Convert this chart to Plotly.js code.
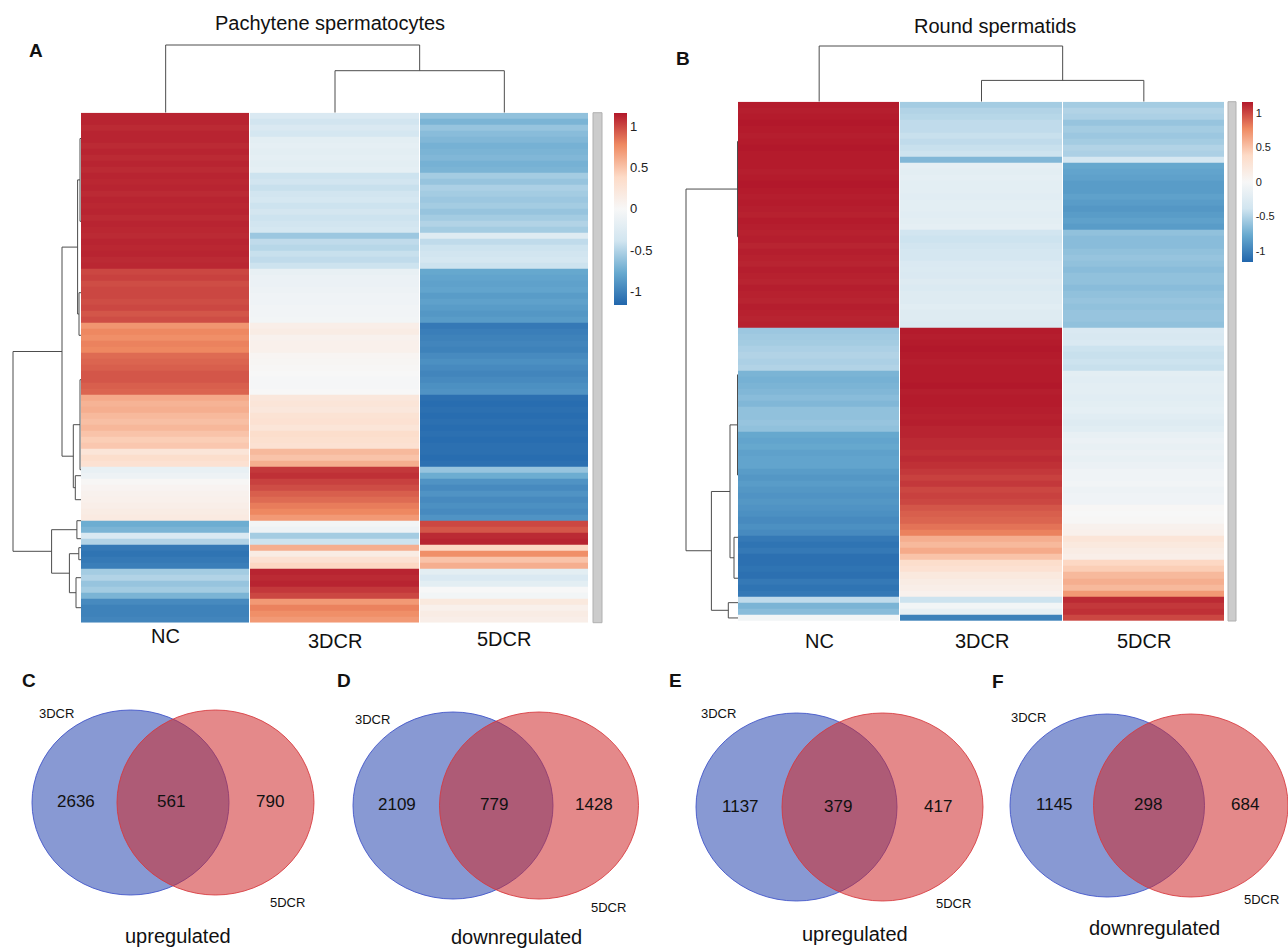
<!DOCTYPE html>
<html><head><meta charset="utf-8">
<script src="https://cdn.plot.ly/plotly-3.0.1.min.js"></script>
<style>html,body{margin:0;padding:0;background:#fff}#chart{width:1288px;height:948px}</style>
</head><body><div id="chart"></div>
<script>
// ---------------- DATA ----------------
const samples = ['NC', '3DCR', '5DCR'];
const colorTicks = [-1, -0.5, 0, 0.5, 1];
const colorTickText = ['-1', '-0.5', '0', '0.5', '1'];

// Panel A: Pachytene spermatocytes (row z-scores, top to bottom)
const ncA = [
  1.12,1.12,1.10,1.12,
  1.12,1.10,1.12,1.10,1.12,1.10,
  1.12,1.11,1.12,1.10,1.12,1.11,1.12,1.10,1.12,1.11,
  1.10,
  1.12,1.11,1.12,1.10,1.11,
  1.00,1.02,0.98,1.00,1.00,0.98,1.00,0.95,0.98,
  0.72,0.78,0.75,0.80,0.78,
  0.88,0.90,0.92,0.95,0.95,0.92,0.90,
  0.62,0.58,0.60,0.55,0.52,0.56,0.50,0.45,0.48,
  0.25,0.35,0.30,
  -0.15,-0.10,0.02,0.05,0.08,0.10,0.12,0.15,0.18,
  -0.75,-0.70,
  -0.30,-0.50,
  -1.05,-1.08,-1.05,-1.02,
  -0.55,-0.50,-0.60,-0.55,-0.70,
  -0.95,-1.00,-1.00,-0.98
];
const d3A = [
  -0.30,-0.38,-0.30,-0.35,
  -0.20,-0.18,-0.20,-0.18,-0.20,-0.18,
  -0.40,-0.38,-0.42,-0.38,-0.35,-0.40,-0.36,-0.40,-0.38,-0.35,
  -0.58,
  -0.45,-0.48,-0.42,-0.45,-0.40,
  -0.15,-0.12,-0.12,-0.10,-0.08,-0.08,-0.06,-0.06,-0.05,
  0.12,0.15,0.08,0.10,0.10,
  0.04,0.03,0.02,0.00,-0.02,-0.02,0.00,
  0.22,0.25,0.22,0.28,0.30,0.25,0.35,0.32,0.30,
  0.55,0.50,0.60,
  1.05,1.08,1.02,0.98,0.92,0.88,0.82,0.78,0.70,
  -0.05,-0.10,
  -0.55,-0.40,
  0.60,0.15,0.30,0.40,
  1.12,1.10,1.12,1.05,1.00,
  0.70,0.80,0.75,0.70
];
const d5A = [
  -0.62,-0.70,-0.60,-0.65,
  -0.68,-0.72,-0.70,-0.68,-0.72,-0.70,
  -0.55,-0.60,-0.52,-0.55,-0.58,-0.55,-0.60,-0.55,-0.50,-0.55,
  -0.25,
  -0.45,-0.40,-0.38,-0.35,-0.40,
  -0.78,-0.80,-0.82,-0.80,-0.85,-0.82,-0.85,-0.88,-0.85,
  -1.05,-1.02,-1.00,-0.98,-1.00,
  -0.95,-0.92,-0.95,-0.98,-0.95,-0.92,-0.90,
  -1.10,-1.12,-1.10,-1.12,-1.10,-1.12,-1.10,-1.12,-1.10,
  -1.10,-1.12,-1.10,
  -0.60,-0.75,-0.90,-0.95,-0.90,-0.95,-0.92,-0.95,-0.90,
  1.00,0.95,
  1.10,1.12,
  0.40,0.75,0.50,0.60,
  -0.20,-0.30,-0.20,0.00,-0.05,
  0.20,0.10,0.15,0.12
];
// row dendrogram A: [childA row, childB row, merge height, childA height, childB height]
const rowLinksA = [
  [3.8, 17.6, 0.1, 0, 0],
  [29.5, 36.6, 0.2, 0, 0],
  [10.7, 33.05, 0.34, 0.1, 0.2],
  [44, 59, 0.1, 0, 0],
  [60, 64, 0.57, 0, 0],
  [51.5, 62, 0.77, 0.1, 0.57],
  [21.9, 56.75, 1.9, 0.34, 0.77],
  [67.5, 70.5, 0.41, 0, 0],
  [72, 74, 0.22, 0, 0],
  [77, 82, 0.5, 0, 0],
  [73, 79.5, 1.16, 0.22, 0.5],
  [69, 76.25, 2.94, 0.41, 1.16],
  [39.3, 72.6, 6.8, 1.9, 2.94]
];
const colLinksA = [
  [1, 2, 4.2, 0, 0],
  [0, 1.5, 6.77, 0, 4.2]
];

// Panel B: Round spermatids
const ncB = [
  1.15,1.14,1.15,1.16,1.15,1.14,1.15,1.16,1.15,
  1.15,
  1.15,1.14,1.15,1.16,1.15,1.14,1.15,1.14,1.13,1.15,1.14,
  1.13,1.14,1.12,1.14,1.13,1.12,1.14,1.13,1.12,1.14,1.13,1.12,1.14,1.13,1.12,1.13,
  -0.58,-0.56,-0.55,-0.52,-0.50,-0.52,-0.50,
  -0.70,-0.72,-0.70,-0.68,-0.65,-0.68,-0.62,-0.62,-0.60,-0.62,
  -0.78,-0.80,-0.78,-0.82,-0.80,-0.80,
  -0.85,-0.88,-0.85,-0.88,-0.90,-0.88,
  -0.90,-0.92,-0.95,-0.92,-0.95,
  -1.05,-1.08,-1.05,-1.10,
  -1.10,-1.08,-1.10,-1.05,-1.08,-1.05,
  -0.45,
  -0.70,-0.65,
  -0.05
];
const d3B = [
  -0.55,-0.50,-0.48,-0.45,-0.45,-0.42,-0.45,-0.42,-0.40,
  -0.68,
  -0.18,-0.20,-0.18,-0.20,-0.20,-0.22,-0.20,-0.20,-0.22,-0.20,-0.18,
  -0.38,-0.40,-0.38,-0.35,-0.35,-0.30,-0.28,-0.30,-0.25,-0.28,-0.25,-0.25,-0.22,-0.25,-0.25,-0.28,
  1.15,1.14,1.15,1.16,1.15,1.14,1.15,
  1.15,1.15,1.16,1.14,1.15,1.15,1.14,1.13,1.14,1.12,
  1.12,1.10,1.10,1.08,1.10,1.08,
  1.05,1.02,1.05,1.00,1.02,1.00,
  0.95,0.92,0.90,0.85,0.80,
  0.60,0.55,0.62,0.50,
  0.35,0.30,0.20,0.15,0.12,0.08,
  -0.40,
  -0.05,-0.15,
  -1.00
];
const d5B = [
  -0.55,-0.50,-0.52,-0.60,-0.55,-0.58,-0.55,-0.50,-0.52,
  -0.35,
  -0.78,-0.80,-0.82,-0.85,-0.85,-0.82,-0.85,-0.88,-0.85,-0.82,-0.85,
  -0.62,-0.65,-0.65,-0.62,-0.60,-0.62,-0.65,-0.62,-0.62,-0.65,-0.62,-0.60,-0.62,-0.60,-0.60,-0.62,
  -0.30,-0.32,-0.30,-0.40,-0.42,-0.40,-0.42,
  -0.20,-0.22,-0.20,-0.20,-0.22,-0.20,-0.18,-0.22,-0.25,-0.22,
  -0.15,-0.12,-0.15,-0.12,-0.15,-0.12,
  -0.08,-0.08,-0.06,-0.10,-0.08,-0.08,
  0.02,0.00,0.02,0.08,0.10,
  0.25,0.20,0.15,0.12,
  0.40,0.45,0.55,0.60,0.55,0.70,
  1.10,
  1.05,1.08,
  1.00
];
const rowLinksB = [
  [6, 21.6, 0.05, 0, 0],
  [44.2, 60.6, 0.05, 0, 0],
  [70.8, 77.5, 0.4, 0, 0],
  [52.4, 74.15, 0.8, 0.05, 0.4],
  [81.5, 84, 0.97, 0, 0],
  [63.3, 82.75, 2.66, 0.8, 0.97],
  [13.8, 73.0, 5.2, 0.05, 2.66]
];
const colLinksB = [
  [1, 2, 2.13, 0, 0],
  [0, 1.5, 5.57, 0, 2.13]
];

// Venn diagrams (C-F)
const vennLetters = ['C', 'D', 'E', 'F'];
const vennTitles = ['upregulated', 'downregulated', 'upregulated', 'downregulated'];
const vennSetA = '3DCR';
const vennSetB = '5DCR';
const vennOnlyA = [2636, 2109, 1137, 1145];
const vennBoth = [561, 779, 379, 298];
const vennOnlyB = [790, 1428, 417, 684];

// ---------------- LAYOUT HELPERS ----------------
const W = 1288, H = 948;
const px = x => x / W;
const py = y => 1 - y / H;
const FONT = 'Liberation Sans, Arial, Helvetica, sans-serif';
const colorscale = [[0,'#2166AC'],[1/6,'#67A9CF'],[2/6,'#D1E5F0'],[0.5,'#F7F7F7'],[4/6,'#FDDBC7'],[5/6,'#EF8A62'],[1,'#B2182B']];

function zOf(a, b, c) { return a.map((v, i) => [v, b[i], c[i]]); }
function rowDendro(links) {
  const x = [], y = [];
  links.forEach(([a, b, h, ha, hb]) => { x.push(ha, h, h, hb, null); y.push(a, a, b, b, null); });
  return { x, y };
}
function colDendro(links) {
  const x = [], y = [];
  links.forEach(([a, b, h, ha, hb]) => { x.push(a, a, b, b, null); y.push(ha, h, h, hb, null); });
  return { x, y };
}
const lineStyle = { color: '#4d4d4d', width: 1 };

function heat(nc, d3, d5, xa, ya, cb) {
  return {
    type: 'heatmap', z: zOf(nc, d3, d5), x: [0, 1, 2], y: nc.map((_, i) => i),
    xaxis: xa, yaxis: ya, colorscale: colorscale, zmin: -1.16, zmax: 1.16,
    xgap: 1, hoverinfo: 'skip', colorbar: cb
  };
}
function cbar(x, yTop, len, thick, fs) {
  return {
    x: px(x), xanchor: 'left', xref: 'paper', y: py(yTop), yanchor: 'top', yref: 'paper',
    len: len, lenmode: 'pixels', thickness: thick, thicknessmode: 'pixels',
    outlinewidth: 0, xpad: 0, ypad: 0, ticks: '',
    tickvals: colorTicks, ticktext: colorTickText,
    tickfont: { family: FONT, size: fs, color: '#222' }
  };
}

const rA = rowDendro(rowLinksA), cA = colDendro(colLinksA);
const rB = rowDendro(rowLinksB), cB = colDendro(colLinksB);

const data = [
  heat(ncA, d3A, d5A, 'x', 'y', cbar(614, 112.7, 192, 13, 13)),
  { type: 'scatter', mode: 'lines', x: rA.x, y: rA.y, xaxis: 'x2', yaxis: 'y', line: lineStyle, hoverinfo: 'skip', showlegend: false },
  { type: 'scatter', mode: 'lines', x: cA.x, y: cA.y, xaxis: 'x', yaxis: 'y2', line: lineStyle, hoverinfo: 'skip', showlegend: false },
  heat(ncB, d3B, d5B, 'x3', 'y3', cbar(1242, 101.7, 160, 11, 11)),
  { type: 'scatter', mode: 'lines', x: rB.x, y: rB.y, xaxis: 'x4', yaxis: 'y3', line: lineStyle, hoverinfo: 'skip', showlegend: false },
  { type: 'scatter', mode: 'lines', x: cB.x, y: cB.y, xaxis: 'x3', yaxis: 'y4', line: lineStyle, hoverinfo: 'skip', showlegend: false }
];

const hid = { visible: false, fixedrange: true, showgrid: false, zeroline: false };
const layout = {
  width: W, height: H, margin: { l: 0, r: 0, t: 0, b: 0 },
  paper_bgcolor: '#fff', plot_bgcolor: 'rgba(0,0,0,0)', showlegend: false,
  font: { family: FONT, color: '#111' },
  xaxis:  Object.assign({ domain: [px(81), px(589)], range: [-0.5, 2.5], anchor: 'y' }, hid),
  yaxis:  Object.assign({ domain: [py(622.7), py(112.7)], range: [84.5, -0.5], anchor: 'x' }, hid),
  xaxis2: Object.assign({ domain: [px(8), px(81)], range: [7.3, 0], anchor: 'y' }, hid),
  yaxis2: Object.assign({ domain: [py(112.7), py(40)], range: [0, 7.27], anchor: 'x' }, hid),
  xaxis3: Object.assign({ domain: [px(738), px(1225)], range: [-0.5, 2.5], anchor: 'y3' }, hid),
  yaxis3: Object.assign({ domain: [py(621), py(101.7)], range: [84.5, -0.5], anchor: 'x3' }, hid),
  xaxis4: Object.assign({ domain: [px(681), px(738)], range: [5.7, 0], anchor: 'y3' }, hid),
  yaxis4: Object.assign({ domain: [py(101.7), py(41)], range: [0, 6.07], anchor: 'x3' }, hid),
  shapes: [], annotations: []
};

function ann(text, x, y, size, opts) {
  return Object.assign({ text: text, x: px(x), y: py(y), xref: 'paper', yref: 'paper', showarrow: false,
    xanchor: 'center', yanchor: 'middle', font: { family: FONT, size: size, color: '#111' } }, opts || {});
}

// titles and panel letters
layout.annotations.push(ann('Pachytene spermatocytes', 330, 23, 20));
layout.annotations.push(ann('Round spermatids', 995, 26, 20));
layout.annotations.push(ann('<b>A</b>', 36, 50, 19));
layout.annotations.push(ann('<b>B</b>', 683.5, 58.5, 19));

// sample labels under heatmaps
const labYA = [636, 641, 639], labYB = [641, 641, 641];
samples.forEach((s, i) => {
  layout.annotations.push({ text: s, x: i, xref: 'x', y: py(labYA[i]), yref: 'paper', showarrow: false,
    xanchor: 'center', yanchor: 'middle', font: { family: FONT, size: 20, color: '#111' } });
  layout.annotations.push({ text: s, x: i, xref: 'x3', y: py(labYB[i]), yref: 'paper', showarrow: false,
    xanchor: 'center', yanchor: 'middle', font: { family: FONT, size: 20, color: '#111' } });
});

// row-name strips
[[593, 112.7, 602, 622.7], [1228, 101.7, 1236, 621]].forEach(r => {
  layout.shapes.push({ type: 'rect', xref: 'paper', yref: 'paper', x0: px(r[0]), x1: px(r[2]), y0: py(r[3]), y1: py(r[1]),
    fillcolor: '#cccccc', line: { color: '#b0b0b0', width: 1 } });
});

// Venn geometry (pixels): blue box, red box, number y, number x's, label positions, title, letter
const vennGeom = [
  { blue: [32, 710, 229, 895], red: [117, 710, 314, 895], ny: 801, nx: [76, 171, 270], la: [56, 713], lb: [287, 902], t: [178, 936], l: [28.5, 680] },
  { blue: [353, 712, 553, 899], red: [439.5, 712, 638.5, 899], ny: 804, nx: [397, 494, 594], la: [373, 719], lb: [608, 907], t: [516, 937], l: [344, 680] },
  { blue: [696, 713, 897, 901], red: [782, 713, 983, 901], ny: 806, nx: [740, 838, 938], la: [718, 713], lb: [953, 903], t: [855, 934], l: [675.6, 680] },
  { blue: [1010, 714, 1204.5, 897], red: [1093.5, 714, 1288, 897], ny: 804, nx: [1054, 1148, 1245], la: [1028, 717], lb: [1261, 899], t: [1154, 928], l: [997.5, 681.5] }
];
vennGeom.forEach((g, i) => {
  layout.shapes.push({ type: 'circle', xref: 'paper', yref: 'paper', x0: px(g.blue[0]), x1: px(g.blue[2]), y0: py(g.blue[3]), y1: py(g.blue[1]),
    fillcolor: 'rgba(57,85,182,0.6)', line: { color: 'rgba(60,80,200,0.85)', width: 1 } });
  layout.shapes.push({ type: 'circle', xref: 'paper', yref: 'paper', x0: px(g.red[0]), x1: px(g.red[2]), y0: py(g.red[3]), y1: py(g.red[1]),
    fillcolor: 'rgba(206,40,42,0.55)', line: { color: 'rgba(215,55,60,0.85)', width: 1 } });
  layout.annotations.push(ann(String(vennOnlyA[i]), g.nx[0], g.ny, 17));
  layout.annotations.push(ann(String(vennBoth[i]), g.nx[1], g.ny, 17));
  layout.annotations.push(ann(String(vennOnlyB[i]), g.nx[2], g.ny, 17));
  layout.annotations.push(ann(vennSetA, g.la[0], g.la[1], 13));
  layout.annotations.push(ann(vennSetB, g.lb[0], g.lb[1], 13));
  layout.annotations.push(ann(vennTitles[i], g.t[0], g.t[1], 20));
  layout.annotations.push(ann('<b>' + vennLetters[i] + '</b>', g.l[0], g.l[1], 19));
});

Plotly.newPlot('chart', data, layout, { staticPlot: true, displayModeBar: false });
</script>
</body></html>
